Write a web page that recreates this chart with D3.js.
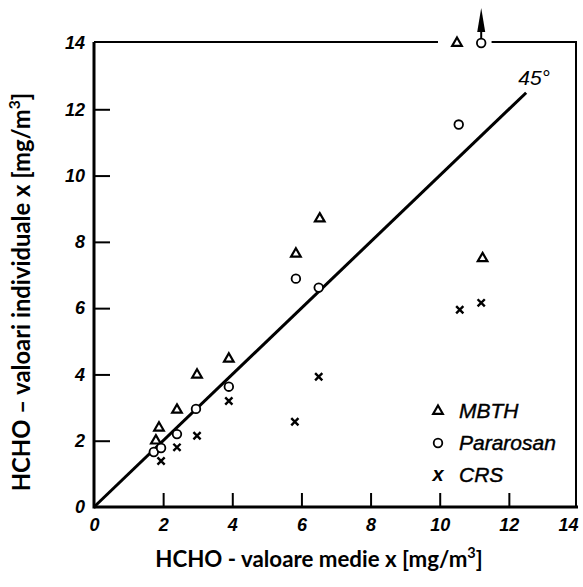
<!DOCTYPE html>
<html>
<head>
<meta charset="utf-8">
<script src="https://cdn.jsdelivr.net/npm/d3@7"></script>
<style>
  body { margin: 0; background: #fff; }
  svg { display: block; }
</style>
</head>
<body>
<svg id="chart" width="583" height="587"></svg>
<script>
// valori (x = valoare medie, y = valoare individuala)
const mbth = [
  [1.79, 2.0], [1.88, 2.39], [2.4, 2.93], [2.98, 3.99], [3.9, 4.47],
  [5.84, 7.64], [6.53, 8.7], [10.5, 14.0], [11.24, 7.5],
];
const pararosan = [
  [1.73, 1.66], [1.94, 1.78], [2.4, 2.2], [2.95, 2.96], [3.9, 3.63],
  [5.84, 6.89], [6.5, 6.62], [10.55, 11.54], [11.2, 14.0],
];
const crs = [
  [1.94, 1.39], [2.4, 1.8], [2.98, 2.15], [3.9, 3.2], [5.81, 2.57],
  [6.5, 3.93], [10.58, 5.95], [11.2, 6.16],
];
const linie45 = [[0, 0], [12.5, 12.5]];
const ticks = [0, 2, 4, 6, 8, 10, 12, 14];
const legendItems = ["MBTH", "Pararosan", "CRS"];

const svg = d3.select("#chart");
const x = d3.scaleLinear().domain([0, 14]).range([94, 578]);
const y = d3.scaleLinear().domain([0, 14]).range([507, 43]);

const tickFont = (sel) =>
  sel.selectAll("text")
    .attr("font-family", "Liberation Sans, Arial, sans-serif")
    .attr("font-style", "italic")
    .attr("font-weight", "bold")
    .attr("font-size", 18)
    .attr("fill", "#000");

// axa X
const gx = svg.append("g")
  .attr("transform", `translate(0,${y(0)})`)
  .call(d3.axisBottom(x).tickValues(ticks).tickSize(-14).tickPadding(11));
gx.select(".domain").remove();
gx.selectAll("line").attr("stroke", "#000").attr("stroke-width", 2)
  .filter((d) => d === 0 || d === 14).remove();
tickFont(gx);
gx.selectAll("text").filter((d) => d === 14).attr("dx", -10);

// axa Y
const gy = svg.append("g")
  .attr("transform", `translate(${x(0)},0)`)
  .call(d3.axisLeft(y).tickValues(ticks).tickSize(-16).tickPadding(9));
gy.select(".domain").remove();
gy.selectAll("line").attr("stroke", "#000").attr("stroke-width", 2)
  .filter((d) => d === 0 || d === 14).remove();
tickFont(gy);

// cadru
const frame = svg.append("g").attr("stroke", "#000").attr("fill", "none");
frame.append("line").attr("x1", x(0)).attr("x2", x(0)).attr("y1", y(14) - 1).attr("y2", y(0) + 1.5).attr("stroke-width", 3);
frame.append("line").attr("x1", x(0)).attr("x2", x(14)).attr("y1", y(0)).attr("y2", y(0)).attr("stroke-width", 3);
frame.append("line").attr("x1", x(14) - 2).attr("x2", x(14) - 2).attr("y1", y(14) - 1).attr("y2", y(0)).attr("stroke-width", 2);
frame.append("line").attr("x1", x(0)).attr("x2", x(9.95)).attr("y1", y(14) - 1).attr("y2", y(14) - 1).attr("stroke-width", 2);
frame.append("line").attr("x1", x(11.5)).attr("x2", x(14) - 1).attr("y1", y(14) - 1).attr("y2", y(14) - 1).attr("stroke-width", 2);

// linia de 45 de grade
svg.append("path")
  .datum(linie45)
  .attr("fill", "none")
  .attr("stroke", "#000")
  .attr("stroke-width", 3)
  .attr("d", d3.line().x((d) => x(d[0])).y((d) => y(d[1])));

svg.append("text")
  .attr("x", x(12.5) + 8)
  .attr("y", y(12.5) - 8)
  .attr("text-anchor", "middle")
  .attr("font-family", "Liberation Sans, Arial, sans-serif")
  .attr("font-style", "italic")
  .attr("font-size", 21)
  .text("45°");

// simboluri
const tri = d3.symbol().type(d3.symbolTriangle).size(40);
svg.append("g").selectAll("path")
  .data(mbth)
  .join("path")
  .attr("transform", (d) => `translate(${x(d[0])},${y(d[1])})`)
  .attr("d", tri)
  .attr("fill", "#fff")
  .attr("stroke", "#000")
  .attr("stroke-width", 2.2);

svg.append("g").selectAll("circle")
  .data(pararosan)
  .join("circle")
  .attr("cx", (d) => x(d[0]))
  .attr("cy", (d) => y(d[1]))
  .attr("r", 4.3)
  .attr("fill", "#fff")
  .attr("stroke", "#000")
  .attr("stroke-width", 1.8);

const cross = (s) => `M${-s},${-s}L${s},${s}M${-s},${s}L${s},${-s}`;
svg.append("g").selectAll("path")
  .data(crs)
  .join("path")
  .attr("transform", (d) => `translate(${x(d[0])},${y(d[1])})`)
  .attr("d", cross(3.6))
  .attr("stroke", "#000")
  .attr("stroke-width", 2.4);

// sageata peste punctul iesit din grafic
const ax = x(11.2);
svg.append("line").attr("x1", ax).attr("x2", ax).attr("y1", y(14) - 5).attr("y2", 28).attr("stroke", "#000").attr("stroke-width", 2);
svg.append("path").attr("d", `M${ax},8L${ax + 4},32L${ax - 4},32Z`).attr("fill", "#000");

// legenda
const leg = svg.append("g").attr("transform", "translate(438,0)");
const legY = [411, 443, 475];
leg.append("path").attr("transform", `translate(0,${legY[0]})`).attr("d", tri)
  .attr("fill", "#fff").attr("stroke", "#000").attr("stroke-width", 2.2);
leg.append("circle").attr("cx", 0).attr("cy", legY[1]).attr("r", 4.3)
  .attr("fill", "#fff").attr("stroke", "#000").attr("stroke-width", 1.8);
leg.append("text").attr("x", 0).attr("y", legY[2] + 6).attr("text-anchor", "middle")
  .attr("font-family", "Liberation Sans, Arial, sans-serif").attr("font-style", "italic")
  .attr("font-weight", "bold").attr("font-size", 20).text("x");
leg.selectAll("text.lbl")
  .data(legendItems)
  .join("text")
  .attr("class", "lbl")
  .attr("x", 21)
  .attr("y", (d, i) => legY[i] + 7)
  .attr("font-family", "Liberation Sans, Arial, sans-serif")
  .attr("font-style", "italic")
  .attr("font-size", 21)
  .attr("stroke", "#000")
  .attr("stroke-width", 0.4)
  .text((d) => d);

// titluri axe
const titleFont = "Lato, 'Open Sans', sans-serif";
function axisTitle(txt, transform, target) {
  const t = svg.append("text")
    .attr("transform", transform)
    .attr("text-anchor", "middle")
    .attr("font-family", titleFont).attr("font-weight", "bold").attr("font-size", 18);
  t.append("tspan").text(txt);
  const sup = t.append("tspan").attr("font-size", 12).attr("dy", -7).text("3");
  const end = t.append("tspan").attr("dy", 7).text("]");
  const len = t.node().getComputedTextLength();
  const fs = 18 * target / len;
  t.attr("font-size", fs);
  sup.attr("font-size", fs * 0.65).attr("dy", -fs * 0.4);
  end.attr("dy", fs * 0.4);
}
axisTitle("HCHO - valoare medie x [mg/m", "translate(319,567)", 328);
axisTitle("HCHO – valoari individuale x [mg/m", "translate(30,292) rotate(-90)", 399);
</script>
</body>
</html>
